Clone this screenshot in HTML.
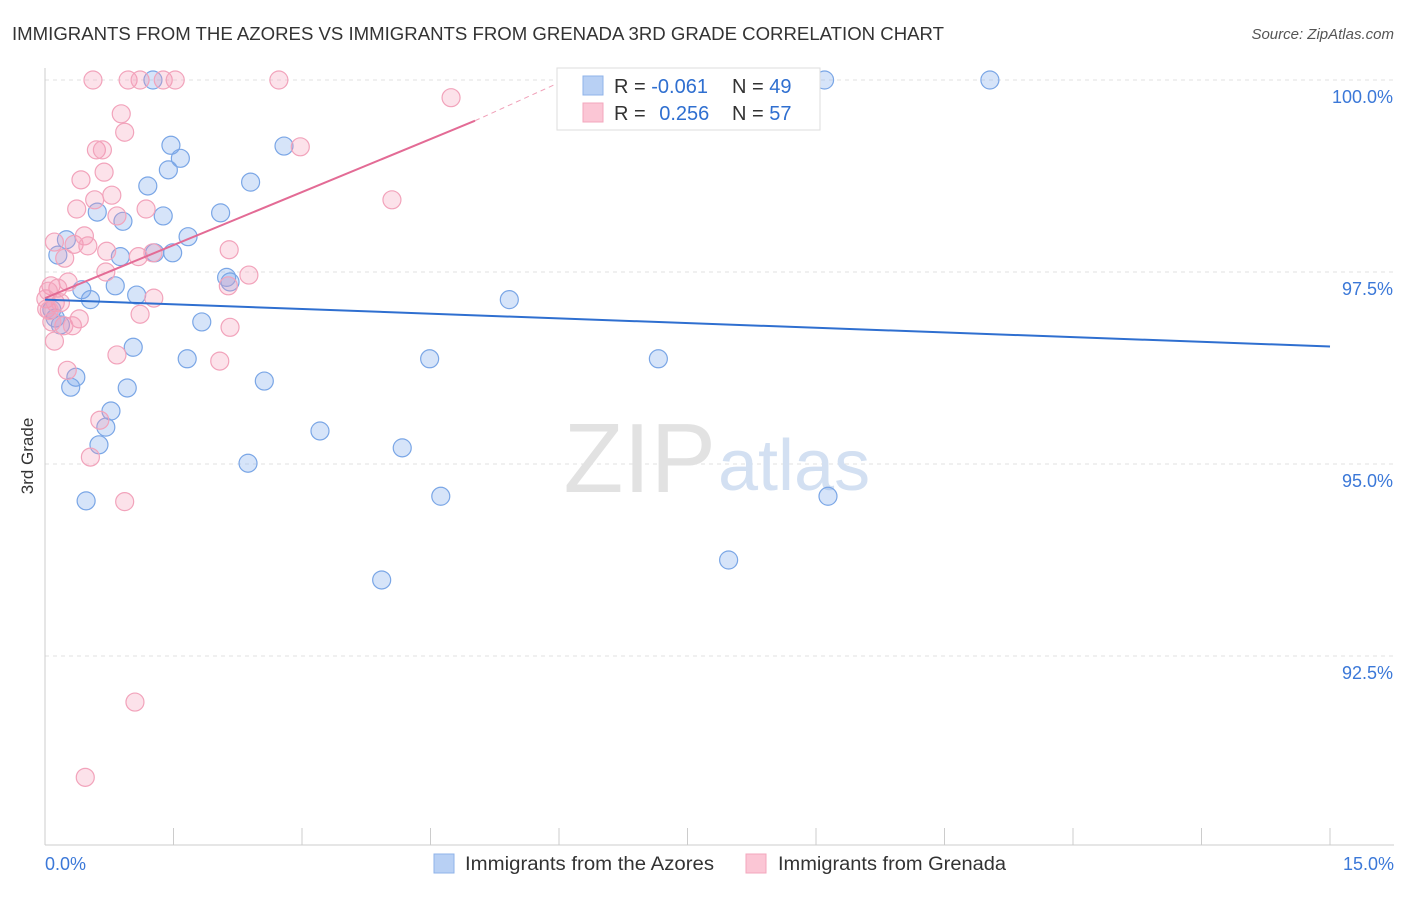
<!DOCTYPE html>
<html><head><meta charset="utf-8"><style>
body{margin:0;background:#fff;font-family:"Liberation Sans",sans-serif;}
svg text{font-family:"Liberation Sans",sans-serif;}
</style></head><body>
<svg id="c" width="1406" height="892">
<text x="12" y="40" font-size="18" fill="#333" textLength="932" lengthAdjust="spacingAndGlyphs">IMMIGRANTS FROM THE AZORES VS IMMIGRANTS FROM GRENADA 3RD GRADE CORRELATION CHART</text>
<text x="1394" y="39" font-size="15" fill="#555" text-anchor="end" font-style="italic">Source: ZipAtlas.com</text>
<text x="33" y="456" font-size="17" fill="#333" text-anchor="middle" transform="rotate(-90 33 456)">3rd Grade</text>
<g id="grid"></g>
<g id="axes"></g>
<text x="716" y="492" font-size="98" fill="#e2e2e2" text-anchor="end" font-family="Liberation Serif">ZIP</text>
<text x="718" y="490" font-size="72" fill="#d3e0f2">atlas</text>
<g id="pts"></g>
<g id="lines"></g>
<g>
<rect x="557" y="68" width="263" height="62" fill="#fff" stroke="#ddd"/>
<rect x="583" y="76" width="20" height="19" fill="#b8d0f4" stroke="#8fb3ea"/>
<rect x="583" y="103" width="20" height="19" fill="#fbc6d5" stroke="#f3a7bd"/>
<text x="614" y="93" font-size="20" fill="#333">R = <tspan fill="#2f6fd0">-0.061</tspan></text>
<text x="732" y="93" font-size="20" fill="#333">N = <tspan fill="#2f6fd0">49</tspan></text>
<text x="614" y="120" font-size="20" fill="#333">R = <tspan fill="#2f6fd0" dx="8">0.256</tspan></text>
<text x="732" y="120" font-size="20" fill="#333">N = <tspan fill="#2f6fd0">57</tspan></text>
</g>
<g>
<rect x="434" y="854" width="20" height="19" fill="#b8d0f4" stroke="#8fb3ea"/>
<text x="465" y="870" font-size="19" fill="#333" textLength="249" lengthAdjust="spacingAndGlyphs">Immigrants from the Azores</text>
<rect x="746" y="854" width="20" height="19" fill="#fbc6d5" stroke="#f3a7bd"/>
<text x="778" y="870" font-size="19" fill="#333" textLength="228" lengthAdjust="spacingAndGlyphs">Immigrants from Grenada</text>
</g>
</svg>
<script>
const yTicks=[100,97.5,95,92.5];
const yTickLabels=["100.0%","97.5%","95.0%","92.5%"];
const xLabels=["0.0%","15.0%"];
const blueX=[1.26,9.10,11.03,1.47,2.79,1.58,1.44,2.40,1.20,0.61,1.38,2.05,0.91,1.67,0.25,0.15,1.28,1.49,0.88,2.12,2.16,0.43,0.82,1.07,0.53,5.42,0.08,0.12,0.18,1.83,1.03,1.66,4.49,7.16,0.36,0.30,0.96,2.56,0.77,0.71,3.21,0.63,4.17,2.37,0.48,4.62,9.14,7.98,3.93];
const blueY=[100,100,100,99.15,99.14,98.98,98.83,98.67,98.62,98.28,98.23,98.27,98.16,97.96,97.92,97.72,97.75,97.75,97.70,97.43,97.37,97.27,97.32,97.20,97.14,97.14,97.01,96.90,96.81,96.85,96.52,96.37,96.37,96.37,96.13,96.00,95.99,96.08,95.69,95.48,95.43,95.25,95.21,95.01,94.52,94.58,94.58,93.75,93.49];
const pinkX=[0.56,0.97,1.11,1.38,1.52,2.73,4.74,0.89,0.93,0.60,0.67,2.98,0.69,0.42,0.78,0.58,4.05,0.37,1.18,0.84,0.11,0.34,0.46,0.50,0.72,2.15,1.26,1.09,0.23,0.71,2.38,0.27,0.07,0.15,2.14,1.27,0.01,0.12,0.02,1.11,0.40,0.22,0.32,2.16,0.11,0.84,2.04,0.26,0.64,0.53,0.93,1.05,0.47,0.18,0.04,0.08,0.05];
const pinkY=[100,100,100,100,100,100,99.77,99.56,99.32,99.09,99.09,99.13,98.80,98.70,98.50,98.44,98.44,98.32,98.32,98.23,97.89,97.86,97.97,97.84,97.77,97.79,97.75,97.70,97.68,97.50,97.46,97.37,97.32,97.29,97.32,97.16,97.15,97.10,97.02,96.95,96.89,96.80,96.80,96.78,96.60,96.42,96.34,96.22,95.57,95.09,94.51,91.90,90.92,97.10,97.25,96.85,97.00];
const blueTrend=[[0,97.14],[15,96.53]];
const pinkTrend=[[0,97.16],[5.02,99.47],[5.95,99.94]];
const X=v=>45+v/15*1285, Y=v=>80+(100-v)/2.5*192;
const NS="http://www.w3.org/2000/svg";
function mk(p,t,a){const e=document.createElementNS(NS,t);for(const k in a)e.setAttribute(k,a[k]);p.appendChild(e);return e;}
const g=document.getElementById('grid'),ax=document.getElementById('axes');
yTicks.forEach((t,i)=>{const l=mk(g,'line',{x1:45,x2:1394,y1:Y(t),y2:Y(t),stroke:'#e2e2e2','stroke-dasharray':'4,4'});


const tx=mk(ax,'text',{x:1393,y:Y(t)+23,'font-size':18,fill:'#3b78d8','text-anchor':'end'});tx.textContent=yTickLabels[i];

});
mk(ax,'line',{x1:45,x2:45,y1:68,y2:845,stroke:'#ccc'});
mk(ax,'line',{x1:45,x2:1394,y1:845,y2:845,stroke:'#ccc'});
for(let i=0;i<=10;i++){const t=mk(ax,'line',{x1:X(i*1.5),x2:X(i*1.5),y1:828,y2:845,stroke:'#ccc'});

}
[[0,45,'start'],[1,1394,'end']].forEach(([i,x,a])=>{const t=mk(ax,'text',{x:x,y:870,'font-size':18,fill:'#3b78d8','text-anchor':a});t.textContent=xLabels[i];

});
const p=document.getElementById('pts');
blueX.forEach((v,i)=>{const c=mk(p,'circle',{cx:X(v),cy:Y(blueY[i]),r:9,fill:'rgba(120,165,235,0.3)',stroke:'#7aa6e6','stroke-width':1.2});

});
pinkX.forEach((v,i)=>{const c=mk(p,'circle',{cx:X(v),cy:Y(pinkY[i]),r:9,fill:'rgba(245,150,180,0.28)',stroke:'#f2a3bb','stroke-width':1.2});

});
const L=document.getElementById('lines');
const b=mk(L,'line',{x1:X(blueTrend[0][0]),y1:Y(blueTrend[0][1]),x2:X(blueTrend[1][0]),y2:Y(blueTrend[1][1]),stroke:'#2f6fd0','stroke-width':2});


const pl=mk(L,'line',{x1:X(pinkTrend[0][0]),y1:Y(pinkTrend[0][1]),x2:X(pinkTrend[1][0]),y2:Y(pinkTrend[1][1]),stroke:'#e36b95','stroke-width':2});


const pd=mk(L,'line',{x1:X(pinkTrend[1][0]),y1:Y(pinkTrend[1][1]),x2:X(pinkTrend[2][0]),y2:Y(pinkTrend[2][1]),stroke:'#f0a0b8','stroke-width':1,'stroke-dasharray':'5,4'});


</script>
</body></html>
